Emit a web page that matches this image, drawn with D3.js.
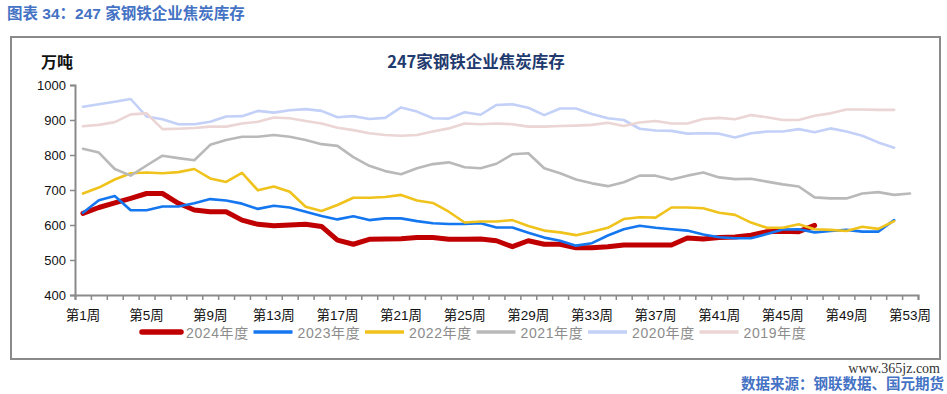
<!DOCTYPE html>
<html><head><meta charset="utf-8">
<script src="https://cdn.jsdelivr.net/npm/d3@7"></script>
<style>
body{margin:0;background:#fff;}
svg text{font-family:"Liberation Sans","Noto Sans CJK SC",sans-serif;}
</style></head>
<body><svg id="c" width="947" height="394"></svg>
<script>
const weeks = d3.range(1, 54);
const tickWeeks = [1,5,9,13,17,21,25,29,33,37,41,45,49,53];
const yTicks = [400,500,600,700,800,900,1000];
const seriesNames = ["2024年度","2023年度","2022年度","2021年度","2020年度","2019年度"];
const s2024 = [633,650,663,676,690,690,662,643,638,638,614,602,598,600,602,596,557,545,559,560,561,564,564,559,559,560,555,538,555,545,545,535,535,538,543,543,543,543,563,560,564,566,571,581,582,581,599];
const s2023 = [635,671,683,642,642,653,653,662,674,670,661,646,655,650,638,626,616,625,614,619,619,611,605,603,603,605,593,593,578,564,555,541,548,570,588,598,592,588,584,573,565,562,562,574,587,588,579,583,586,581,581,614];
const s2022 = [690,707,730,748,750,748,751,760,733,723,749,699,710,695,652,640,657,678,678,680,686,670,663,638,607,610,610,614,597,584,579,571,581,592,617,622,621,650,650,648,635,629,607,592,592,602,588,586,583,595,589,611];
const s2021 = [818,807,760,741,770,798,791,785,829,843,852,852,857,852,843,831,826,794,769,754,745,762,774,779,765,762,775,802,805,762,748,730,719,711,722,741,741,730,741,750,736,731,732,724,716,710,679,676,676,690,694,686,690];
const s2020 = [938,945,952,960,910,902,888,888,895,910,911,926,921,928,931,926,908,911,903,906,936,924,905,904,922,915,943,945,935,914,933,933,917,905,900,875,870,869,861,862,861,850,862,867,867,874,865,876,867,855,836,821];
const s2019 = [882,886,894,916,919,874,875,877,881,881,890,895,907,905,897,890,878,871,862,857,855,857,867,876,890,888,890,888,881,881,883,884,886,892,883,893,897,890,890,903,906,902,914,908,900,900,912,919,930,930,929,929];

const seriesData = [s2024,s2023,s2022,s2021,s2020,s2019];
const colors = ["#C00000","#1477F0","#F0C21C","#B9B9B9","#C3D0F7","#EBD5D5"];
const widths = [5,2.6,2.6,2.6,2.6,2.6];

const svg = d3.select("#c");
svg.append("rect").attr("width",947).attr("height",394).attr("fill","#fff");

// page title
svg.append("text").attr("x",7).attr("y",19).attr("fill","#4472C4")
  .attr("font-size",15.5).attr("font-weight","bold")
  .text("图表 34：247 家钢铁企业焦炭库存");

// frame
svg.append("rect").attr("x",11).attr("y",37).attr("width",929).attr("height",322)
  .attr("fill","none").attr("stroke","#8a8a8a").attr("stroke-width",2);

const x = d3.scaleLinear().domain([0.5,53.5]).range([75,918]);
const y = d3.scaleLinear().domain([400,1000]).range([295,85]);

// unit & chart title
svg.append("text").attr("x",41).attr("y",68).attr("font-size",16).attr("font-weight","bold")
  .attr("fill","#111").style("font-family","'Noto Sans CJK SC'").text("万吨");
svg.append("text").attr("x",476).attr("y",68).attr("text-anchor","middle").attr("font-size",16.5)
  .attr("font-weight","bold").attr("fill","#1F3A6E").style("font-family","'Noto Sans CJK SC'")
  .text("247家钢铁企业焦炭库存");

// y axis
const ya = svg.append("g").attr("transform","translate(75,0)")
  .call(d3.axisLeft(y).tickValues(yTicks).tickSize(5).tickPadding(4).tickFormat(d3.format("d")));
ya.select(".domain").attr("stroke","#8a8a8a").attr("stroke-width",2);
ya.selectAll(".tick line").attr("stroke","#8a8a8a").attr("stroke-width",1.5);
ya.selectAll(".tick text").attr("font-size",13).attr("fill","#111").style("font-family","'Liberation Sans'");

// x axis (ticks between categories)
const xa = svg.append("g").attr("transform","translate(0,295)")
  .call(d3.axisBottom(x).tickValues(d3.range(0.5,54,1)).tickSize(5).tickFormat(""));
xa.select(".domain").attr("stroke","#8a8a8a").attr("stroke-width",2);
xa.selectAll(".tick line").attr("stroke","#8a8a8a").attr("stroke-width",1.5);

svg.append("g").selectAll("text").data(tickWeeks).join("text")
  .attr("x",d=>x(d)).attr("y",320).attr("text-anchor","middle").attr("font-size",13.5)
  .attr("fill","#111").text(d=>"第"+d+"周");

// lines
const line = d3.line().x((d,i)=>x(i+1)).y(d=>y(d));
seriesData.forEach((s,k)=>{
  svg.append("path").datum(s).attr("d",line).attr("fill","none")
    .attr("stroke",colors[k]).attr("stroke-width",widths[k])
    .attr("stroke-linejoin","round").attr("stroke-linecap","round");
});

// legend
const lg = svg.append("g");
seriesNames.forEach((n,k)=>{
  const lx = 142 + k*111.5;
  lg.append("line").attr("x1",lx).attr("x2",lx+39).attr("y1",332).attr("y2",332)
    .attr("stroke",colors[k]).attr("stroke-width",widths[k]+ (k===0?0.5:1)).attr("stroke-linecap",k===0?"round":"butt");
  lg.append("text").attr("x",lx+44).attr("y",337.5).attr("font-size",14).attr("fill","#8c8c8c")
    .attr("letter-spacing",0.6).text(n);
});

// source
svg.append("text").attr("x",944).attr("y",389).attr("text-anchor","end").attr("font-size",14.5)
  .attr("font-weight","bold").attr("fill","#4472C4").text("数据来源：钢联数据、国元期货");
svg.append("text").attr("x",940).attr("y",373).attr("text-anchor","end").attr("font-size",14)
  .attr("fill","#333").style("font-family","'Liberation Serif'").text("www.365jz.com");
</script></body></html>
